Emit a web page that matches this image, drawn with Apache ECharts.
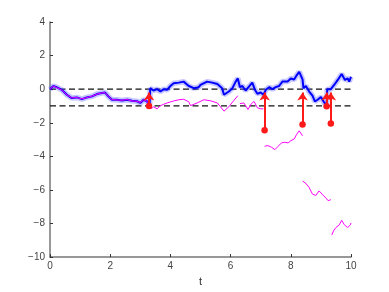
<!DOCTYPE html>
<html><head><meta charset="utf-8">
<script src="https://cdn.jsdelivr.net/npm/echarts@6/dist/echarts.min.js"></script>
<style>html,body{margin:0;padding:0;background:#fff}#c{width:389px;height:292px}</style>
</head><body><div id="c"></div>
<script>
// blue path (reset process)
const blueT = [0,0.11,0.22,0.39,0.56,0.72,0.89,1.06,1.22,1.39,1.56,1.72,1.83,1.94,2.06,2.22,2.39,2.56,2.72,2.89,3.0,3.11,3.22,3.31,
  3.33,3.44,3.56,3.67,3.78,3.89,4.0,4.11,4.28,4.44,4.61,4.78,4.94,5.0,5.22,5.39,5.56,5.72,5.78,5.94,6.06,6.17,6.24,6.31,6.39,6.5,6.61,6.72,6.8,6.89,7.0,7.09,7.17,7.28,7.39,7.5,7.61,7.72,7.89,8.0,8.11,8.2,8.28,8.39,
  8.42,8.5,8.61,8.72,8.8,8.89,9.0,9.09,9.19,9.21,9.33,9.44,9.56,9.69,9.8,9.89,9.94,10.0];
const blueV = [0,0.19,0.12,-0.04,-0.33,-0.53,-0.49,-0.59,-0.49,-0.43,-0.29,-0.23,-0.2,-0.43,-0.63,-0.63,-0.67,-0.63,-0.69,-0.72,-0.82,-0.63,-0.72,-0.92,
  0.06,-0.08,0,-0.14,0,-0.04,0.19,0.35,0.39,0.45,0.19,0.06,0.12,0.25,0.45,0.39,0.31,0.06,-0.33,-0.14,0.06,0.45,0.64,0.12,0.19,-0.08,0.15,0.39,0,-0.27,-0.2,-0.33,-0.04,0.12,0,0.12,0.19,0.45,0.45,0.64,0.58,0.84,1.03,0.58,
  0.06,0.19,-0.14,-0.39,-0.73,-0.63,-0.47,-0.73,-1.02,0,0,0.25,0.55,0.9,0.55,0.64,0.45,0.74];
// magenta path (unreset process), null = break
const magT = [0,0.11,0.22,0.39,0.56,0.72,0.89,1.06,1.22,1.39,1.56,1.72,1.83,1.94,2.06,2.22,2.39,2.56,2.72,2.89,3.0,3.11,3.22,3.31,
  3.36,3.44,3.56,3.67,3.78,3.89,4.0,4.11,4.28,4.44,4.61,4.67,4.89,5.11,5.33,5.56,5.78,5.94,6.11,6.24,6.27,6.31,6.44,6.58,6.69,6.78,6.89,7.0,7.09,
  7.11,7.13,7.24,7.36,7.47,7.58,7.69,7.8,7.91,8.0,8.11,8.2,8.28,8.39,
  8.39,8.39,8.5,8.61,8.72,8.83,8.94,9.06,9.17,9.24,9.33,
  9.34,9.36,9.42,9.5,9.61,9.69,9.78,9.89,9.98,10.0];
const magV = [0,0.18,0.1,-0.05,-0.34,-0.52,-0.5,-0.58,-0.5,-0.42,-0.3,-0.22,-0.21,-0.42,-0.62,-0.64,-0.66,-0.62,-0.7,-0.72,-0.8,-0.64,-0.72,-0.92,
  -1.17,-1.05,-1.17,-0.98,-0.9,-0.82,-0.76,-0.7,-0.63,-0.6,-0.75,-0.98,-0.82,-0.63,-0.69,-0.82,-1.31,-1.05,-0.67,-0.39,null,-0.86,-0.82,-1.21,-0.86,-0.73,-1.11,-1.17,-1.17,
  null,-3.40,-3.36,-3.46,-3.60,-3.40,-3.20,-3.16,-3.20,-3.07,-2.97,-2.68,-2.48,-2.78,
  null,-5.47,-5.61,-5.86,-6.25,-6.33,-6.06,-6.29,-6.49,-6.64,-6.58,
  null,-8.69,-8.44,-8.24,-8.08,-7.81,-8.08,-8.24,-8.08,-7.97];
// reset arrows (shaft start / shaft end)
const arrowT = [3.29, 7.13, 8.39, 9.19, 9.33];
const arrowFrom = [-1.0, -2.44, -2.11, -1.02, -2.05];
const arrowTo = [-0.2, -0.2, -0.2, -0.2, -0.2];
// barrier levels
const levels = [0, -1];

const pairs = (T,V)=>T.map((t,i)=>[t, V[i]===null?'-':V[i]]);
const blueData = pairs(blueT, blueV);
const magData = pairs(magT, magV);

const series = [];
levels.forEach(l=>{
  series.push({type:'line', data:[[0,l],[10,l]], symbol:'none', silent:true, z:1,
    lineStyle:{color:'#111', width:1.3, type:[6,3.5]}});
});
series.push({type:'line', data:blueData, symbol:'none', z:2, connectNulls:false,
  lineStyle:{color:'rgba(90,90,255,0.35)', width:5.5}});
series.push({type:'line', data:blueData, symbol:'none', z:3, connectNulls:false,
  lineStyle:{color:'#0000ff', width:2}});
series.push({type:'line', data:magData, symbol:'none', z:4, connectNulls:false,
  lineStyle:{color:'#ff00ff', width:1}});
series.push({type:'lines', coordinateSystem:'cartesian2d', z:5,
  symbol:['circle','arrow'], symbolSize:[6.5,8],
  lineStyle:{color:'#ff1a1a', width:2, opacity:1},
  data: arrowT.map((t,i)=>({coords:[[t,arrowFrom[i]],[t,arrowTo[i]]]}))});

const chart = echarts.init(document.getElementById('c'), null, {renderer:'canvas'});
const fmt = v=>String(v).replace('-','\u2212');
chart.setOption({
  animation:false,
  grid:{left:50, right:38, top:22, bottom:31, containLabel:false},
  xAxis:{type:'value', min:0, max:10, interval:2, name:'t', nameLocation:'middle', nameGap:15,
    nameTextStyle:{color:'#333', fontSize:11, fontFamily:'Liberation Sans'},
    axisLine:{show:true, onZero:false, lineStyle:{color:'#777', width:1.5}},
    axisTick:{show:true, inside:true, length:3, lineStyle:{color:'#333'}},
    axisLabel:{color:'#444', fontSize:10, fontFamily:'Liberation Sans', margin:4, formatter:fmt},
    splitLine:{show:false}},
  yAxis:{type:'value', min:-10, max:4, interval:2,
    axisLine:{show:true, onZero:false, lineStyle:{color:'#777', width:1.5}},
    axisTick:{show:true, inside:true, length:3, lineStyle:{color:'#333'}},
    axisLabel:{color:'#444', fontSize:10, fontFamily:'Liberation Sans', margin:5, formatter:fmt},
    splitLine:{show:false}},
  series
});
</script></body></html>
